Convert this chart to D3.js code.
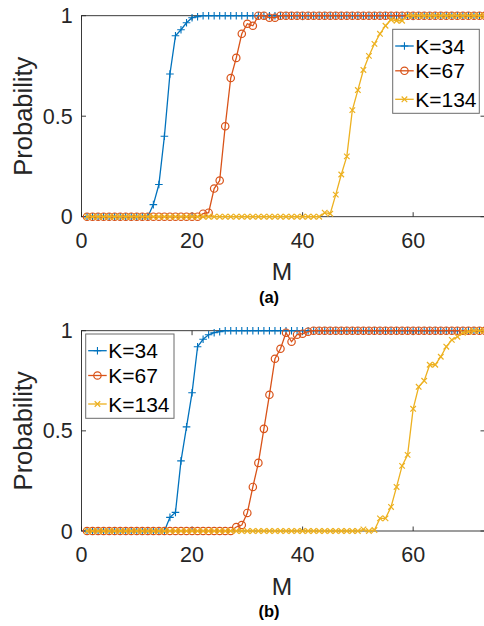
<!DOCTYPE html>
<html><head><meta charset="utf-8">
<script src="https://cdn.jsdelivr.net/npm/d3@7/dist/d3.min.js"></script>
<style>
html,body{margin:0;padding:0;background:#fff;}
svg{display:block;font-family:"Liberation Sans",Arial,Helvetica,sans-serif;}
</style></head>
<body>
<script>
// x values (M)
const M = [1,2,3,4,5,6,7,8,9,10,11,12,13,14,15,16,17,18,19,20,21,22,23,24,25,26,27,28,29,30,31,32,33,34,35,36,37,38,39,40,41,42,43,44,45,46,47,48,49,50,51,52,53,54,55,56,57,58,59,60,61,62,63,64,65,66,67,68,69,70,71,72,73];

const seriesNames = ["K=34","K=67","K=134"];
const xTicks = [0,20,40,60];
const yTicks = [0,0.5,1];
const yTickLabels = ["0","0.5","1"];
const panelLabels = ["(a)","(b)"];

// Panel (a)
const a_K34 = [0,0,0,0,0,0,0,0,0,0,0,0,0.06,0.16,0.40,0.71,0.90,0.93,0.965,0.99,0.995,1,1,1,1,1,1,1,1,1,1,1,1,1,1,1,1,1,1,1,1,1,1,1,1,1,1,1,1,1,1,1,1,1,1,1,1,1,1,1,1,1,1,1,1,1,1,1,1,1,1,1,1];
const a_K67 = [0,0,0,0,0,0,0,0,0,0,0,0,0,0,0,0,0,0,0,0,0,0.015,0.02,0.14,0.18,0.45,0.69,0.79,0.91,0.96,0.95,1,1,0.99,0.99,1,1,1,1,1,1,1,1,1,1,1,1,1,1,1,1,1,1,1,1,1,1,1,1,1,1,1,1,1,1,1,1,1,1,1,1,1,1];
const a_K134 = [0,0,0,0,0,0,0,0,0,0,0,0,0,0,0,0,0,0,0,0,0,0,0,0,0,0,0,0,0,0,0,0,0,0,0,0,0,0,0,0,0,0,0,0.02,0.015,0.11,0.21,0.30,0.53,0.63,0.73,0.80,0.86,0.91,0.95,0.98,0.975,0.975,1,1,1,1,1,1,1,1,1,1,1,1,1,1,1];

// Panel (b)
const b_K34 = [0,0,0,0,0,0,0,0,0,0,0,0,0,0,0,0.068,0.093,0.35,0.52,0.69,0.92,0.957,0.98,0.99,0.995,1,1,1,1,1,1,1,1,1,1,1,1,1,1,1,1,1,1,1,1,1,1,1,1,1,1,1,1,1,1,1,1,1,1,1,1,1,1,1,1,1,1,1,1,1,1,1,1];
const b_K67 = [0,0,0,0,0,0,0,0,0,0,0,0,0,0,0,0,0,0,0,0,0,0,0,0,0,0,0,0.02,0.03,0.09,0.22,0.34,0.51,0.68,0.86,0.91,0.99,0.945,0.98,0.985,0.995,1,1,1,1,1,1,1,1,1,1,1,1,1,1,1,1,1,1,1,1,1,1,1,1,1,1,1,1,1,1,1,1];
const b_K134 = [0,0,0,0,0,0,0,0,0,0,0,0,0,0,0,0,0,0,0,0,0,0,0,0,0,0,0,0,0,0,0,0,0,0,0,0,0,0,0,0,0,0,0,0,0,0,0,0,0,0,0.008,0,0.005,0.063,0.063,0.12,0.22,0.325,0.38,0.61,0.72,0.75,0.83,0.83,0.87,0.92,0.954,0.97,0.99,0.995,1,1,1];

const colors = ["#0072BD","#D95319","#EDB120"];
const markers = ["plus","circle","cross"];
const txt = "#262626";

const W = 484, H = 626;
const svg = d3.select("body").append("svg").attr("width",W).attr("height",H);

const panels = [
  {series:[a_K34,a_K67,a_K134], top:15.7, bottom:216.7, label:panelLabels[0],
   legend:{x:392.7,y:29.3,w:86.6,h:84}},
  {series:[b_K34,b_K67,b_K134], top:330.7, bottom:531, label:panelLabels[1],
   legend:{x:85.7,y:334,w:88.3,h:84.3}}
];

const left = 81.5, right = 485;

function drawMarker(g, type, x, y, color, s){
  if(type==="plus"){
    g.append("path").attr("d",`M${x-s},${y}H${x+s}M${x},${y-s}V${y+s}`)
      .attr("stroke",color).attr("stroke-width",1.1).attr("fill","none");
  } else if(type==="circle"){
    g.append("circle").attr("cx",x).attr("cy",y).attr("r",s)
      .attr("stroke",color).attr("stroke-width",1.2).attr("fill","none");
  } else {
    const t = s*0.75;
    g.append("path").attr("d",`M${x-t},${y-t}L${x+t},${y+t}M${x-t},${y+t}L${x+t},${y-t}`)
      .attr("stroke",color).attr("stroke-width",1.2).attr("fill","none");
  }
}
const mSize = [3.8,3.7,3.7];

panels.forEach(p=>{
  const x = d3.scaleLinear().domain([0,73]).range([left,right]);
  const y = d3.scaleLinear().domain([0,1]).range([p.bottom,p.top]);
  const g = svg.append("g");

  g.append("rect").attr("x",left).attr("y",p.top).attr("width",right-left).attr("height",p.bottom-p.top)
    .attr("fill","none").attr("stroke",txt).attr("stroke-width",0.9);

  const tl = 4.5;
  xTicks.forEach(t=>{
    g.append("line").attr("x1",x(t)).attr("x2",x(t)).attr("y1",p.bottom).attr("y2",p.bottom-tl).attr("stroke",txt).attr("stroke-width",0.9);
    g.append("line").attr("x1",x(t)).attr("x2",x(t)).attr("y1",p.top).attr("y2",p.top+tl).attr("stroke",txt).attr("stroke-width",0.9);
    g.append("text").attr("x",x(t)).attr("y",p.bottom+31.3).attr("text-anchor","middle")
      .attr("font-size",21.5).attr("fill",txt).text(t);
  });
  yTicks.forEach((t,i)=>{
    g.append("line").attr("x1",left).attr("x2",left+tl).attr("y1",y(t)).attr("y2",y(t)).attr("stroke",txt).attr("stroke-width",0.9);
    g.append("line").attr("x1",right).attr("x2",right-tl).attr("y1",y(t)).attr("y2",y(t)).attr("stroke",txt).attr("stroke-width",0.9);
    g.append("text").attr("x",72.7).attr("y",y(t)+7.6).attr("text-anchor","end")
      .attr("font-size",21.5).attr("fill",txt).text(yTickLabels[i]);
  });

  g.append("text").attr("x",282).attr("y",p.bottom+63.5).attr("text-anchor","middle")
    .attr("font-size",24.5).attr("fill",txt).text("M");
  const cy = (p.top+p.bottom)/2;
  g.append("text").attr("transform",`translate(32,${cy}) rotate(-90)`).attr("text-anchor","middle")
    .attr("font-size",25.5).attr("fill",txt).text("Probability");
  g.append("text").attr("x",269).attr("y",p.bottom+86).attr("text-anchor","middle")
    .attr("font-size",16.5).attr("font-weight","bold").attr("fill","#000").text(p.label);

  const line = d3.line().x((d,i)=>x(M[i])).y(d=>y(d));
  p.series.forEach((s,k)=>{
    const sg = g.append("g");
    sg.append("path").datum(s).attr("d",line).attr("fill","none")
      .attr("stroke",colors[k]).attr("stroke-width",1.3);
    s.forEach((v,i)=>drawMarker(sg, markers[k], x(M[i]), y(v), colors[k], mSize[k]));
  });

  const L = p.legend;
  const lg = g.append("g");
  lg.append("rect").attr("x",L.x).attr("y",L.y).attr("width",L.w).attr("height",L.h)
    .attr("fill","#fff").attr("stroke","#6b6b6b").attr("stroke-width",1);
  const rowY = [16.7,41.5,70.5];
  seriesNames.forEach((n,k)=>{
    const yy = L.y + rowY[k] + (k===2?-0.5:0);
    const x0 = L.x+2.5, x1 = L.x+21;
    lg.append("line").attr("x1",x0).attr("x2",x1).attr("y1",yy).attr("y2",yy)
      .attr("stroke",colors[k]).attr("stroke-width",1.3);
    drawMarker(lg, markers[k], (x0+x1)/2, yy, colors[k], mSize[k]);
    lg.append("text").attr("x",L.x+22.5).attr("y",yy+7.5).attr("font-size",21)
      .attr("fill","#000").text(n);
  });
});
</script>
</body></html>
